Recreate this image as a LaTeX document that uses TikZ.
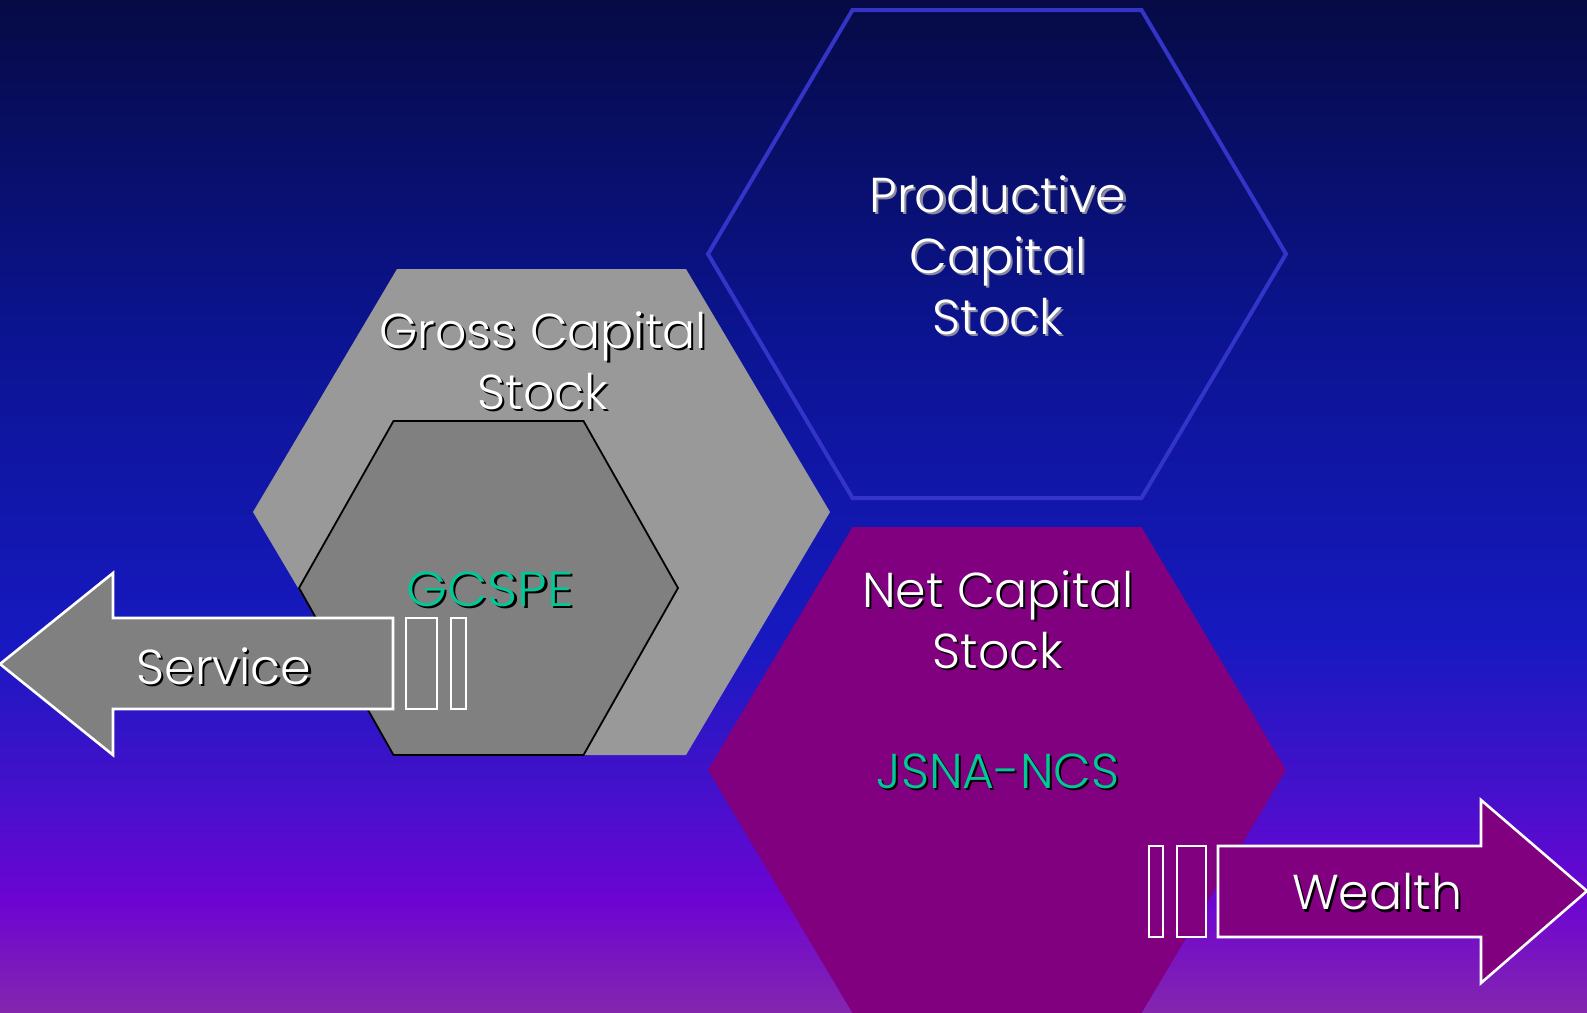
\documentclass[tikz,border=0pt]{standalone}
\usepackage{fontspec}
\setmainfont{Poppins Light}

\definecolor{bgA}{HTML}{060A45}
\definecolor{bgB}{HTML}{0B1490}
\definecolor{bgC}{HTML}{1719C0}
\definecolor{bgD}{HTML}{4810CC}
\definecolor{bgE}{HTML}{6D04D2}
\definecolor{bgF}{HTML}{8426AE}
\definecolor{hexline}{HTML}{3434C8}
\definecolor{grosscol}{HTML}{999999}
\definecolor{innercol}{HTML}{808080}
\definecolor{netcol}{HTML}{800080}
\definecolor{labelgreen}{HTML}{00C896}
\definecolor{softshadow}{HTML}{8A8AA0}

% text with a drop shadow offset down and right
\newcommand{\dropsh}[2][black]{\leavevmode\rlap{\kern2.2pt\raisebox{-2.2pt}{\textcolor{#1}{#2}}}#2}

\tikzset{
  bigtext/.style={font=\fontsize{49}{61}\selectfont, text=white, align=center, inner sep=0pt},
  greentext/.style={bigtext, text=labelgreen},
  arrowshape/.style={draw=white, line width=2.6pt, line join=miter},
}

\begin{document}
\begin{tikzpicture}[x=1pt,y=-1pt]
\useasboundingbox (0,0) rectangle (1587,1012);

% background gradient, in horizontal bands
\fill[top color=bgA, bottom color=bgB] (0,0) rectangle (1587,331);
\fill[top color=bgB, bottom color=bgC] (0,330) rectangle (1587,641);
\fill[top color=bgC, bottom color=bgD] (0,640) rectangle (1587,801);
\fill[top color=bgD, bottom color=bgE] (0,800) rectangle (1587,901);
\fill[top color=bgE, bottom color=bgF] (0,900) rectangle (1587,1012);

% productive capital stock: outline only
\draw[hexline, line width=4pt, shift={(997,254)}]
  (-289,0) -- (-144.5,-244) -- (144.5,-244) -- (289,0) -- (144.5,244) -- (-144.5,244) -- cycle;

% gross capital stock
\fill[grosscol, shift={(541.5,512)}]
  (-288.5,0) -- (-144.5,-243) -- (144.5,-243) -- (288.5,0) -- (144.5,243) -- (-144.5,243) -- cycle;

% GCSPE, inside the gross stock
\filldraw[fill=innercol, draw=black, line width=1.8pt, shift={(488.5,588)}]
  (-189.5,0) -- (-95,-167) -- (95,-167) -- (189.5,0) -- (95,167) -- (-95,167) -- cycle;

% net capital stock
\fill[netcol, shift={(997,770)}]
  (-289,0) -- (-144.5,-243) -- (144.5,-243) -- (289,0) -- (144.5,243) -- (-144.5,243) -- cycle;

% service arrow pointing left
\filldraw[arrowshape, fill=innercol]
  (393,618) -- (113,618) -- (113,573) -- (0,664) -- (113,755) -- (113,709) -- (393,709) -- cycle;
\filldraw[arrowshape, fill=innercol] (406,618) rectangle (437,709);
\filldraw[arrowshape, fill=innercol] (451,618) rectangle (466,709);

% wealth arrow pointing right
\filldraw[arrowshape, fill=netcol]
  (1218,846) -- (1481,846) -- (1481,800) -- (1587,891) -- (1481,983) -- (1481,937) -- (1218,937) -- cycle;
\filldraw[arrowshape, fill=netcol] (1149,846) rectangle (1163,937);
\filldraw[arrowshape, fill=netcol] (1177,846) rectangle (1206,937);

% labels
\node[bigtext] (productive) at (998,256)
  {\dropsh[softshadow]{Productive}\\\dropsh[softshadow]{Capital}\\\dropsh[softshadow]{Stock}};
\node[bigtext] (gross) at (543,362) {\dropsh{Gross Capital}\\\dropsh{Stock}};
\node[greentext] (gcspe) at (490,590) {\scalebox{1.07}[1]{\dropsh{GCSPE}}};
\node[bigtext] (service) at (224,667) {\dropsh{Service}};
\node[bigtext] (net) at (998,621) {\dropsh{Net Capital}\\\dropsh{Stock}};
\node[greentext] (jsna) at (998,772) {\dropsh{JSNA-NCS}};
\node[bigtext] (wealth) at (1377,893) {\dropsh{Wealth}};
\end{tikzpicture}
\end{document}
